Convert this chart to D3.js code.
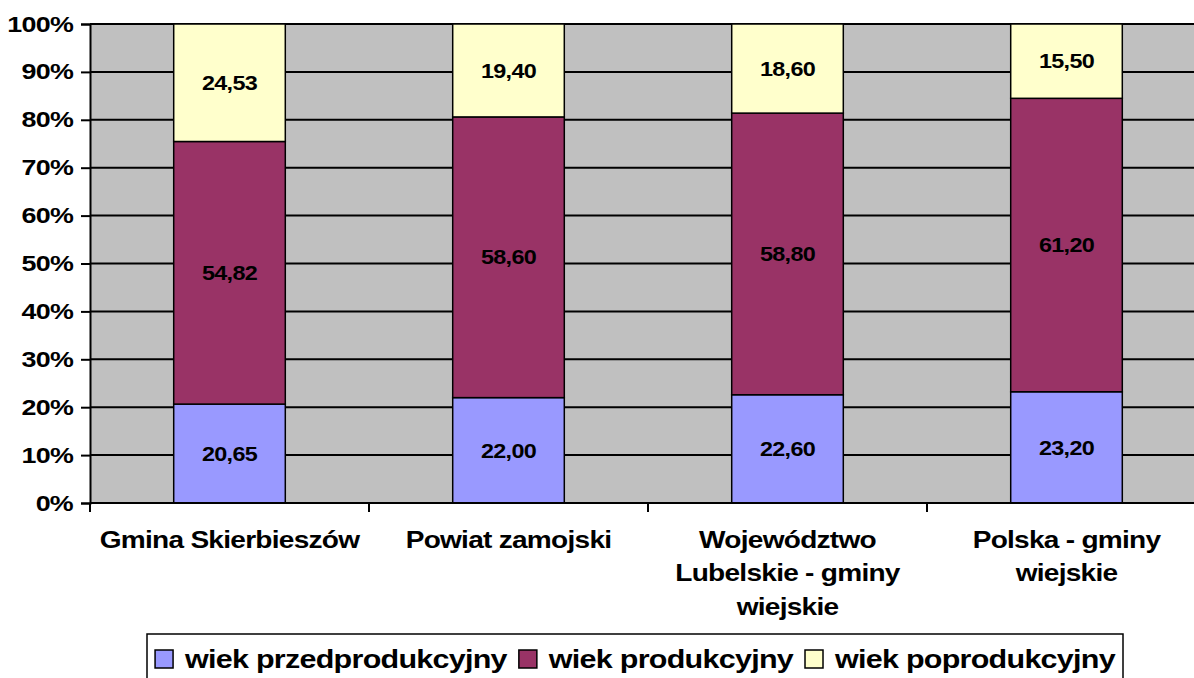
<!DOCTYPE html>
<html>
<head>
<meta charset="utf-8">
<script src="https://cdn.jsdelivr.net/npm/d3@7"></script>
<style>
  body { margin: 0; background: #fff; }
  svg { display: block; font-family: "Liberation Sans", Arial, sans-serif; font-weight: bold; }
</style>
</head>
<body>
<svg></svg>
<script>
const categories = ['Gmina Skierbieszów', 'Powiat zamojski', 'Województwo Lubelskie - gminy wiejskie', 'Polska - gminy wiejskie']
const categoryLines = [
  ['Gmina Skierbieszów'],
  ['Powiat zamojski'],
  ['Województwo', 'Lubelskie - gminy', 'wiejskie'],
  ['Polska - gminy', 'wiejskie']
]
const seriesNames = ['wiek przedprodukcyjny', 'wiek produkcyjny', 'wiek poprodukcyjny']
const przed = [20.65, 22.00, 22.60, 23.20]
const prod = [54.82, 58.60, 58.80, 61.20]
const popr = [24.53, 19.40, 18.60, 15.50]
const yTicks = [0, 0.1, 0.2, 0.3, 0.4, 0.5, 0.6, 0.7, 0.8, 0.9, 1]
const colors = ['#9999FF', '#993366', '#FFFFCC']

const rows = categories.map((c, i) => ({
  cat: c,
  [seriesNames[0]]: przed[i],
  [seriesNames[1]]: prod[i],
  [seriesNames[2]]: popr[i]
}))

const svg = d3.select('svg')
const [svgWidth, svgHeight] = [1194, 678]
svg.attr('width', svgWidth).attr('height', svgHeight)

const plot = {left: 90, top: 24, right: 1206, bottom: 503}
const stretch = 1.22 // the original text is drawn wide and tight
const spacing = '-0.6px'
const translate = (x, y) => `translate(${x}, ${y})`

const x = d3.scaleBand()
  .domain(categories)
  .range([plot.left, plot.right])
  .paddingInner(0.6)
  .paddingOuter(0.3)

const xTickScale = d3.scaleLinear()
  .domain([0, categories.length])
  .range([plot.left, plot.right])

const y = d3.scaleLinear()
  .domain([0, 1])
  .range([plot.bottom, plot.top])

const color = d3.scaleOrdinal().domain(seriesNames).range(colors)

const stacked = d3.stack().keys(seriesNames).offset(d3.stackOffsetExpand)(rows)

// background
svg.append('rect')
  .attr('x', plot.left).attr('y', plot.top)
  .attr('width', plot.right - plot.left).attr('height', plot.bottom - plot.top)
  .style('fill', '#C0C0C0')

// gridlines
svg.append('g').selectAll('line').data(yTicks.slice(1)).enter().append('line')
  .attr('x1', plot.left).attr('x2', plot.right)
  .attr('y1', d => y(d)).attr('y2', d => y(d))
  .style('stroke', '#000').style('stroke-width', 2)

// bars
const layers = svg.append('g').selectAll('g').data(stacked).enter().append('g')
  .style('fill', d => color(d.key))

layers.selectAll('rect').data(d => d).enter().append('rect')
  .attr('x', d => x(d.data.cat))
  .attr('width', x.bandwidth())
  .attr('y', d => y(d[1]))
  .attr('height', d => y(d[0]) - y(d[1]))
  .style('stroke', '#000').style('stroke-width', 1.5)

// value labels
layers.selectAll('text').data(d => d.map(v => ({v, key: d.key}))).enter().append('text')
  .attr('transform', d => translate(x(d.v.data.cat) + x.bandwidth() / 2, (y(d.v[0]) + y(d.v[1])) / 2) + ' scale(1.17, 1)')
  .attr('dy', '0.36em')
  .attr('text-anchor', 'middle')
  .style('fill', '#000')
  .style('font-size', '20px')
  .style('letter-spacing', spacing)
  .text(d => d3.format('.2f')(d.v.data[d.key]).replace('.', ','))

// y axis
const yAxis = d3.axisLeft(y).tickValues(yTicks).tickFormat(d3.format('.0%')).tickSizeOuter(0).tickSize(9).tickPadding(8)
const yg = svg.append('g').attr('transform', translate(plot.left, 0)).call(yAxis)
yg.select('.domain').style('stroke', '#000').style('stroke-width', 2)
yg.selectAll('.tick line').style('stroke', '#000').style('stroke-width', 2)
yg.selectAll('.tick text')
  .attr('x', 0)
  .attr('transform', `translate(-17, 0) scale(${stretch}, 1)`)
  .style('font-family', '"Liberation Sans", Arial, sans-serif')
  .style('font-weight', 'bold').style('font-size', '22px')
  .style('letter-spacing', spacing)
  .style('fill', '#000')

// x axis
const xg = svg.append('g')
xg.append('line')
  .attr('x1', plot.left).attr('x2', plot.right)
  .attr('y1', plot.bottom).attr('y2', plot.bottom)
  .style('stroke', '#000').style('stroke-width', 2)
xg.selectAll('.xtick').data(d3.range(categories.length + 1)).enter().append('line')
  .attr('x1', d => xTickScale(d)).attr('x2', d => xTickScale(d))
  .attr('y1', plot.bottom).attr('y2', plot.bottom + 9)
  .style('stroke', '#000').style('stroke-width', 2)

const xLabels = xg.selectAll('text').data(categories).enter().append('text')
  .attr('text-anchor', 'middle')
  .attr('transform', d => translate(x(d) + x.bandwidth() / 2, 548) + ` scale(${stretch}, 1)`)
  .style('font-size', '23px')
  .style('letter-spacing', spacing)
xLabels.selectAll('tspan').data((d, i) => categoryLines[i]).enter().append('tspan')
  .attr('x', 0)
  .attr('y', (d, i) => i * 33.5)
  .text(d => d)

// legend
const legend = svg.append('g')
legend.append('rect')
  .attr('x', 147).attr('y', 634).attr('width', 976).attr('height', 60)
  .style('fill', '#fff').style('stroke', '#000').style('stroke-width', 1.5)

const items = legend.selectAll('g').data(seriesNames).enter().append('g')
items.append('rect')
  .attr('y', -18).attr('width', 18).attr('height', 18)
  .style('fill', d => color(d)).style('stroke', '#000').style('stroke-width', 1.5)
const itemTexts = items.append('text')
  .attr('transform', `translate(30, 0) scale(${stretch}, 1)`)
  .style('font-size', '25px')
  .style('letter-spacing', spacing)
  .text(d => d)

const widths = []
itemTexts.each(function () { widths.push(30 + this.getComputedTextLength() * stretch) })
const gap = 12
const total = d3.sum(widths) + gap * (widths.length - 1)
let cursor = 147 + (976 - total) / 2
items.attr('transform', (d, i) => {
  const t = translate(cursor, 668)
  cursor += widths[i] + gap
  return t
})
</script>
</body>
</html>
